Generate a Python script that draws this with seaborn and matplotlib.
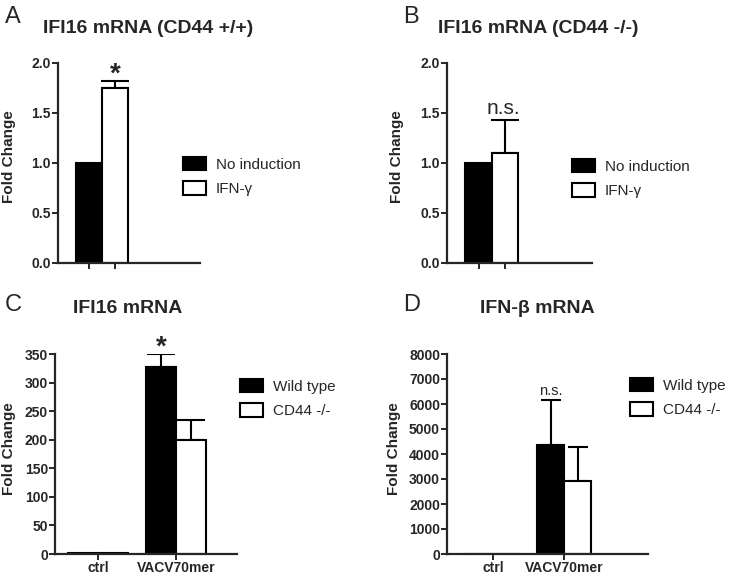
import pandas as pd
import matplotlib.pyplot as plt
import seaborn as sns
from matplotlib.patches import Patch

sns.set_style("ticks")
plt.rcParams["font.family"] = ["Liberation Sans", "DejaVu Sans"]

# A / B: IFI16 mRNA with and without IFN-γ
ab_groups = ["No induction", "IFN-γ"]
a_values = [1.0, 1.75]
a_errors = [0.0, 0.07]
b_values = [1.0, 1.1]
b_errors = [0.0, 0.33]
ab_ticks = [0.0, 0.5, 1.0, 1.5, 2.0]

# C / D: response to VACV70mer
cd_conditions = ["ctrl", "VACV70mer"]
cd_genotypes = ["Wild type", "CD44 -/-"]
c_wt = [1, 328]
c_ko = [1, 200]
c_wt_err = [0, 22]
c_ko_err = [0, 35]
c_ticks = [0, 50, 100, 150, 200, 250, 300, 350]
d_wt = [1, 4350]
d_ko = [1, 2930]
d_wt_err = [0, 1800]
d_ko_err = [0, 1350]
d_ticks = [0, 1000, 2000, 3000, 4000, 5000, 6000, 7000, 8000]

W, H = 733, 579
fig = plt.figure(figsize=(W / 100, H / 100), dpi=100)


def box(l, t, r, b):
    return [l / W, 1 - b / H, (r - l) / W, (b - t) / H]


def fx(x, y):
    return x / W, 1 - y / H


colors = {"No induction": "black", "IFN-γ": "white",
          "Wild type": "black", "CD44 -/-": "white"}


def style(ax, ticks, fmt):
    sns.despine(ax=ax)
    for s in ["left", "bottom"]:
        ax.spines[s].set_linewidth(1.6)
    ax.tick_params(axis="both", direction="out", length=4, width=1.4,
                   labelsize=10, pad=1)
    ax.set_yticks(ticks)
    ax.set_yticklabels([fmt.format(t) for t in ticks], fontweight="bold")
    ax.set_ylim(ticks[0], ticks[-1])
    ax.set_xlabel("")
    ax.set_ylabel("")


def upper_err(ax, container, errs, capsize):
    for bar, e in zip(container, errs):
        if e <= 0:
            continue
        x = bar.get_x() + bar.get_width() / 2
        y = bar.get_height()
        ax.errorbar([x], [y], yerr=[[0], [e]], fmt="none", ecolor="black",
                    elinewidth=1.5, capsize=capsize, capthick=1.5, zorder=1)


def simple_panel(rect, values, errors, xlim):
    ax = fig.add_axes(box(*rect))
    df = pd.DataFrame({"group": ab_groups, "value": values})
    sns.barplot(data=df, x="group", y="value", hue="group", order=ab_groups,
                palette=colors, width=1, edgecolor="black", linewidth=1.5,
                errorbar=None, legend=False, ax=ax, zorder=2)
    style(ax, ab_ticks, "{:.1f}")
    ax.set_xlim(*xlim)
    ax.set_xticks([0, 1])
    ax.set_xticklabels(["", ""])
    bars = [b for cont in ax.containers for b in cont if b.get_height() > 0]
    bars.sort(key=lambda b: b.get_x())
    upper_err(ax, bars, errors, 10)
    return ax, bars


def group_panel(rect, wt, ko, wt_err, ko_err, ticks, xlim, capsize):
    ax = fig.add_axes(box(*rect))
    df = pd.DataFrame({
        "condition": cd_conditions * 2,
        "genotype": [cd_genotypes[0]] * 2 + [cd_genotypes[1]] * 2,
        "value": wt + ko,
    })
    sns.barplot(data=df, x="condition", y="value", hue="genotype",
                order=cd_conditions, hue_order=cd_genotypes, palette=colors,
                width=0.76, edgecolor="black", linewidth=1.5, errorbar=None,
                legend=False, ax=ax, zorder=2)
    style(ax, ticks, "{:d}")
    ax.set_xlim(*xlim)
    ax.set_xticks([0, 1])
    ax.set_xticklabels(cd_conditions, fontweight="bold")
    upper_err(ax, ax.containers[0], wt_err, capsize)
    upper_err(ax, ax.containers[1], ko_err, capsize)
    return ax


def add_legend(ax, labels, x, y):
    handles = [Patch(facecolor=colors[l], edgecolor="black", linewidth=1.5)
               for l in labels]
    ax.legend(handles, labels, loc="upper left",
              bbox_to_anchor=fx(x, y), bbox_transform=fig.transFigure,
              frameon=False, fontsize=11, handlelength=1.5, handleheight=0.98,
              handletextpad=0.65, labelspacing=0.6, borderpad=0,
              borderaxespad=0)


def ylabel(ax, x, y):
    ax.set_ylabel("Fold Change", fontsize=11, fontweight="bold")
    ax.yaxis.set_label_coords(*fx(x, y), transform=fig.transFigure)


# Panel A
axA, barsA = simple_panel((58, 63, 200, 263), a_values, a_errors, (-1.19, 4.27))
ylabel(axA, 16, 157)
add_legend(axA, ab_groups, 183, 157)
axA.text(1, a_values[1] + a_errors[1] - 0.01, "*", ha="center",
         va="baseline", fontsize=20, fontweight="bold")

# Panel B
axB, barsB = simple_panel((447, 63, 592, 263), b_values, b_errors, (-1.19, 4.28))
ylabel(axB, 404, 157)
add_legend(axB, ab_groups, 572, 159)
axB.text(0.92, b_values[1] + b_errors[1] + 0.06, "n.s.", ha="center",
         va="baseline", fontsize=15)

# Panel C
axC = group_panel((55, 354, 237, 554), c_wt, c_ko, c_wt_err, c_ko_err,
                  c_ticks, (-0.55, 1.78), 10)
ylabel(axC, 16, 449)
add_legend(axC, cd_genotypes, 240, 379)
xc = axC.containers[0][1]
axC.text(xc.get_x() + xc.get_width() / 2, c_wt[1] + c_wt_err[1] - 1, "*",
         ha="center", va="baseline", fontsize=20, fontweight="bold")

# Panel D
axD = group_panel((447, 354, 648, 554), d_wt, d_ko, d_wt_err, d_ko_err,
                  d_ticks, (-0.65, 2.18), 7)
ylabel(axD, 401, 449)
add_legend(axD, cd_genotypes, 630, 378)
xd = axD.containers[0][1]
axD.text(xd.get_x() + xd.get_width() / 2, d_wt[1] + d_wt_err[1] + 200, "n.s.",
         ha="center", va="baseline", fontsize=10.5)

# panel letters and titles
for letter, (lx, ly), title, (tx, ty) in [
    ("A", (5, 23), "IFI16 mRNA (CD44 +/+)", (43, 33)),
    ("B", (403, 23), "IFI16 mRNA (CD44 -/-)", (438, 33)),
    ("C", (5, 311), "IFI16 mRNA", (73, 313)),
    ("D", (403, 311), "IFN-β mRNA", (480, 313)),
]:
    fig.text(*fx(lx, ly), letter, fontsize=17, ha="left", va="baseline")
    fig.text(*fx(tx, ty), title, fontsize=14, fontweight="bold",
             ha="left", va="baseline")

fig.savefig("out.png", dpi=100)
